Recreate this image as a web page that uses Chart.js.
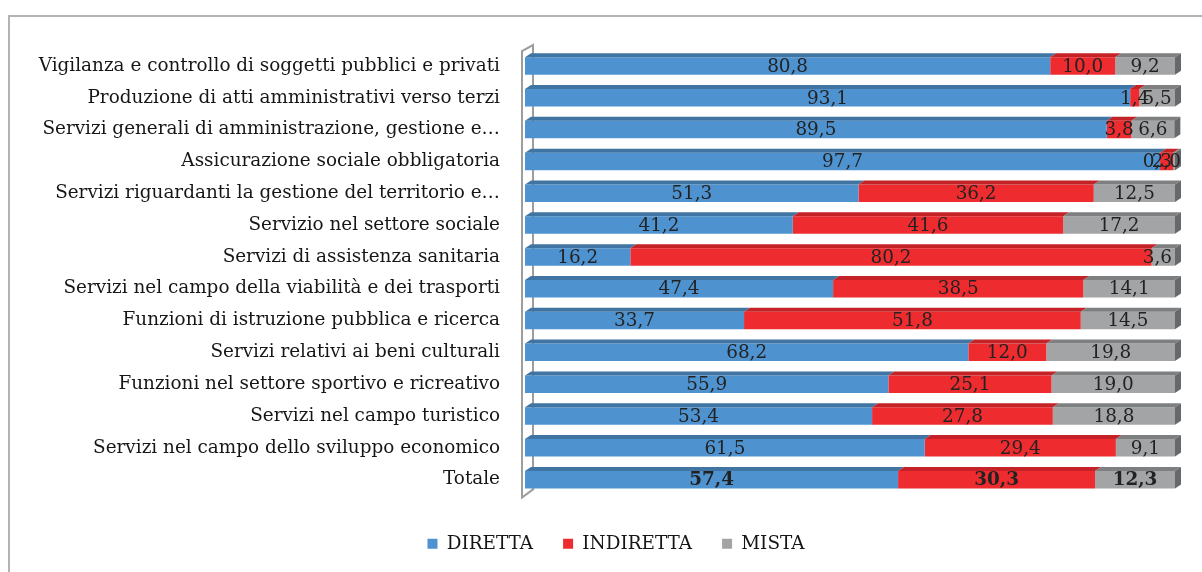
<!DOCTYPE html>
<html><head><meta charset="utf-8">
<script src="https://cdn.jsdelivr.net/npm/chart.js@4.4.1/dist/chart.umd.min.js"></script>
<style>
html,body{margin:0;padding:0;background:#fff;overflow:hidden;width:1202px;height:572px;}
#frame{position:absolute;left:8px;top:15px;width:1400px;height:800px;border-left:2px solid #b3b3b3;border-top:2px solid #b3b3b3;}
#wrap{position:absolute;left:30px;top:0;width:1172px;height:572px;}
</style></head><body>
<div id="frame"></div>
<div id="wrap"><canvas id="c"></canvas></div>
<script>
const categories = [
  'Vigilanza e controllo di soggetti pubblici e privati',
  'Produzione di atti amministrativi verso terzi',
  'Servizi generali di amministrazione, gestione e…',
  'Assicurazione sociale obbligatoria',
  'Servizi riguardanti la gestione del territorio e…',
  'Servizio nel settore sociale',
  'Servizi di assistenza sanitaria',
  'Servizi nel campo della viabilità e dei trasporti',
  'Funzioni di istruzione pubblica e ricerca',
  'Servizi relativi ai beni culturali',
  'Funzioni nel settore sportivo e ricreativo',
  'Servizi nel campo turistico',
  'Servizi nel campo dello sviluppo economico',
  'Totale'
];
const diretta   = [80.8, 93.1, 89.5, 97.7, 51.3, 41.2, 16.2, 47.4, 33.7, 68.2, 55.9, 53.4, 61.5, 57.4];
const indiretta = [10.0,  1.4,  3.8,  2.0, 36.2, 41.6, 80.2, 38.5, 51.8, 12.0, 25.1, 27.8, 29.4, 30.3];
const mista     = [ 9.2,  5.5,  6.6,  0.3, 12.5, 17.2,  3.6, 14.1, 14.5, 19.8, 19.0, 18.8,  9.1, 12.3];
const seriesNames = ['DIRETTA', 'INDIRETTA', 'MISTA'];

const FONT = 'DejaVu Serif';
const FS = 18.4;
const fronts = ['#4e93d0', '#ee2c2f', '#a2a4a6'];
const tops   = ['#3f74a3', '#c42226', '#7d7f81'];
const sideCol = '#66696b';

const threeD = {
  id: 'threeD',
  beforeDatasetsDraw(chart) {
    const ctx = chart.ctx, a = chart.chartArea;
    ctx.save();
    ctx.strokeStyle = '#9d9d9d';
    ctx.lineWidth = 2;
    ctx.beginPath();
    ctx.moveTo(a.left + 8, a.bottom - 7);
    ctx.lineTo(a.left + 8, a.top - 5);
    ctx.lineTo(a.left - 3, a.top + 1);
    ctx.lineTo(a.left - 3, a.bottom + 2);
    ctx.lineTo(a.left + 9, a.bottom - 7);
    ctx.stroke();
    ctx.restore();
  },
  afterDatasetsDraw(chart) {
    const ctx = chart.ctx, a = chart.chartArea;
    const dx = 6, dy = 4;
    ctx.save();
    const n = chart.data.datasets.length;
    chart.data.datasets.forEach((ds, di) => {
      const meta = chart.getDatasetMeta(di);
      meta.data.forEach((el) => {
        const p = el.getProps(['x', 'y', 'base', 'height'], true);
        const l = Math.min(p.x, p.base), r = Math.max(p.x, p.base);
        const t = p.y - p.height / 2, b = p.y + p.height / 2;
        ctx.fillStyle = tops[di];
        ctx.beginPath();
        ctx.moveTo(l, t); ctx.lineTo(l + dx, t - dy); ctx.lineTo(r + dx, t - dy); ctx.lineTo(r, t);
        ctx.closePath(); ctx.fill();
        if (di === n - 1) {
          ctx.fillStyle = sideCol;
          ctx.beginPath();
          ctx.moveTo(r, t); ctx.lineTo(r + dx, t - dy); ctx.lineTo(r + dx, b - dy); ctx.lineTo(r, b);
          ctx.closePath(); ctx.fill();
        }
      });
    });
    ctx.textAlign = 'center';
    ctx.textBaseline = 'middle';
    ctx.fillStyle = '#222222';
    chart.data.datasets.forEach((ds, di) => {
      const meta = chart.getDatasetMeta(di);
      meta.data.forEach((el, i) => {
        const p = el.getProps(['x', 'y', 'base'], true);
        const last = i === categories.length - 1;
        ctx.font = (last ? 'bold ' : '') + FS + 'px "' + FONT + '"';
        const txt = ds.data[i].toFixed(1).replace('.', ',');
        const w = ctx.measureText(txt).width;
        const lim = di === n - 1 ? a.right - 3 : a.right + 6;
        const cx = Math.min((p.x + p.base) / 2, lim - w / 2);
        ctx.fillText(txt, cx, p.y + 1);
      });
    });
    ctx.restore();
  }
};

const values = [diretta, indiretta, mista];
new Chart(document.getElementById('c'), {
  type: 'bar',
  data: {
    labels: categories,
    datasets: seriesNames.map((name, i) => ({
      label: name,
      data: values[i],
      backgroundColor: fronts[i],
      borderWidth: 0,
      barPercentage: 0.55,
      categoryPercentage: 1.0
    }))
  },
  options: {
    indexAxis: 'y',
    responsive: true,
    maintainAspectRatio: false,
    animation: false,
    devicePixelRatio: 1,
    layout: { padding: { top: 50, bottom: 9, left: 0, right: 0 } },
    scales: {
      x: {
        stacked: true, min: 0, max: 100,
        ticks: { display: false },
        grid: { display: false, drawTicks: false, tickLength: 0 },
        border: { display: false },
        afterFit(s) { s.height = 9; }
      },
      y: {
        stacked: true,
        grid: { display: false, drawTicks: false, tickLength: 0 },
        border: { display: false },
        ticks: { padding: 25, color: '#161616', font: { family: FONT, size: FS }, autoSkip: false },
        afterFit(s) { s.width = 495; }
      },
      y2: {
        type: 'category', position: 'right', labels: categories,
        grid: { display: false, drawTicks: false, tickLength: 0 },
        border: { display: false },
        ticks: { display: false },
        afterFit(s) { s.width = 27; }
      }
    },
    plugins: {
      tooltip: { enabled: false },
      legend: {
        position: 'bottom',
        labels: {
          boxWidth: 10, boxHeight: 10, padding: 30,
          color: '#161616',
          font: { family: FONT, size: FS }
        }
      }
    }
  },
  plugins: [threeD]
});
</script>
</body></html>
